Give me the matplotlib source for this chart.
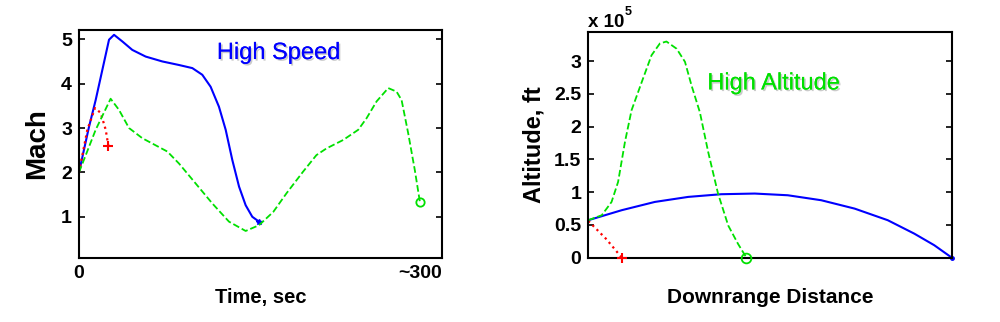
import matplotlib
matplotlib.use("Agg")
import matplotlib.pyplot as plt
import matplotlib.patheffects as pe

plt.rcParams['font.family'] = ['Liberation Sans', 'DejaVu Sans']

# Mach vs time (sec)
speed_t = [0, 8.8, 14.6, 26.3, 30.7, 38, 46.7, 58.4, 73, 87.6, 99.3, 108, 115.3, 122.6,
           128.5, 134.3, 140.2, 146, 151.8, 157.7]
speed_mach = [2.0, 3.03, 3.63, 4.99, 5.1, 4.95, 4.76, 4.61, 4.50, 4.42, 4.35, 4.20, 3.93, 3.48,
              2.96, 2.28, 1.68, 1.26, 1.0, 0.89]

short_t = [0, 7.3, 14, 19, 23.4, 25.7]
short_mach = [2.0, 2.96, 3.45, 3.34, 2.96, 2.6]

alt_t = [0, 14.6, 27.7, 35, 43.8, 55.5, 77.4, 87.6, 102.2, 116.8, 131.4, 146, 157.7, 170.2,
         181.8, 196.4, 208, 216.8, 231.4, 244.6, 251.9, 260.7, 270.9, 278.2, 282.6, 288.4,
         294.2, 298.6]
alt_mach = [2.0, 2.96, 3.66, 3.41, 3.0, 2.77, 2.47, 2.2, 1.75, 1.30, 0.89, 0.68, 0.81, 1.11,
            1.53, 2.02, 2.39, 2.54, 2.73, 2.96, 3.22, 3.6, 3.90, 3.82, 3.63, 2.88,
            2.05, 1.34]

# Altitude (x 1e5 ft) vs downrange distance (normalised)
speed_x = [0, 0.092, 0.183, 0.275, 0.366, 0.458, 0.549, 0.641, 0.733, 0.824, 0.897, 0.952, 1.0]
speed_alt = [0.571, 0.724, 0.85, 0.927, 0.968, 0.978, 0.952, 0.876, 0.748, 0.571, 0.366, 0.189, 0.0]

short_x = [0, 0.05, 0.092]
short_alt = [0.56, 0.28, 0.0]

alt_x = [0, 0.037, 0.064, 0.082, 0.101, 0.119, 0.147, 0.174, 0.197, 0.215, 0.243, 0.266,
         0.284, 0.307, 0.33, 0.357, 0.385, 0.412, 0.435]
alt_alt = [0.571, 0.647, 0.85, 1.156, 1.77, 2.25, 2.68, 3.09, 3.27, 3.30, 3.19, 2.99,
           2.63, 2.22, 1.61, 0.978, 0.49, 0.21, 0.0]

blue = '#0000ff'
green = '#00e000'
red = '#ff0000'
shadow = [pe.withSimplePatchShadow(offset=(1.2, -1.2), shadow_rgbFace='#999999', alpha=0.5), pe.Normal()]

fig = plt.figure(figsize=(10, 3.22), dpi=100)

# Mach history
ax1 = fig.add_axes([0.079, 0.2, 0.363, 0.707])
ax1.plot(speed_t, speed_mach, '-', color=blue, lw=1.5)
ax1.plot(speed_t[-1], speed_mach[-1], '*', color=blue, ms=4)
ax1.plot(short_t, short_mach, ':', color=red, lw=1.6)
ax1.plot(short_t[-1], short_mach[-1], '+', color=red, ms=7, mew=1.5)
ax1.plot(alt_t, alt_mach, '--', color=green, lw=1.3)
ax1.plot(alt_t[-1], alt_mach[-1], 'o', color=green, mfc='none', ms=6, mew=1.3)
ax1.set_xlim(0, 318)
ax1.set_ylim(0.08, 5.21)
ax1.set_yticks([1, 2, 3, 4, 5])
ax1.set_xticks([0, 318])
ax1.set_xticklabels(['0', '~300'])
ax1.get_xticklabels()[1].set_horizontalalignment('right')
ax1.set_xlabel('Time, sec', fontsize=14.5, fontweight='bold', labelpad=5)
ax1.set_ylabel('Mach', fontsize=20, fontweight='bold', labelpad=8)
ax1.text(175, 4.69, 'High Speed', color=blue, fontsize=17, ha='center', va='center',
         path_effects=shadow)

# Altitude profile
ax2 = fig.add_axes([0.5883, 0.2, 0.3634, 0.7016])
ax2.plot(speed_x, speed_alt, '-', color=blue, lw=1.5)
ax2.plot(speed_x[-1], speed_alt[-1], '.', color=blue, ms=5, clip_on=False)
ax2.plot(short_x, short_alt, ':', color=red, lw=1.6)
ax2.plot(short_x[-1], short_alt[-1], '+', color=red, ms=7, mew=1.5, clip_on=False, zorder=5)
ax2.plot(alt_x, alt_alt, '--', color=green, lw=1.3)
ax2.plot(alt_x[-1], alt_alt[-1], 'o', color=green, mfc='none', ms=7, mew=1.3,
         clip_on=False, zorder=5)
ax2.set_xlim(0, 1)
ax2.set_ylim(0, 3.45)
ax2.set_yticks([0, 0.5, 1, 1.5, 2, 2.5, 3])
ax2.set_yticklabels(['0', '0.5', '1', '1.5', '2', '2.5', '3'])
ax2.set_xticks([])
ax2.set_xlabel('Downrange Distance', fontsize=15, fontweight='bold', labelpad=22)
ax2.set_ylabel('Altitude, ft', fontsize=17, fontweight='bold', labelpad=6)
ax2.text(0.511, 2.66, 'High Altitude', color=green, fontsize=17, ha='center', va='center',
         path_effects=shadow)
# exponent label above the y axis
ax2.text(0.0, 1.02, 'x 10', transform=ax2.transAxes, fontsize=13.5, fontweight='bold',
         ha='left', va='baseline')
ax2.text(0.1, 1.075, '5', transform=ax2.transAxes, fontsize=9, fontweight='bold',
         ha='left', va='baseline')

for ax in (ax1, ax2):
    for s in ax.spines.values():
        s.set_linewidth(1.5)
    ax.tick_params(direction='in', right=True, length=4, width=1.2, labelsize=14, pad=5)
    for lab in ax.get_xticklabels() + ax.get_yticklabels():
        lab.set_fontweight('bold')

fig.savefig('out.png', dpi=100)
